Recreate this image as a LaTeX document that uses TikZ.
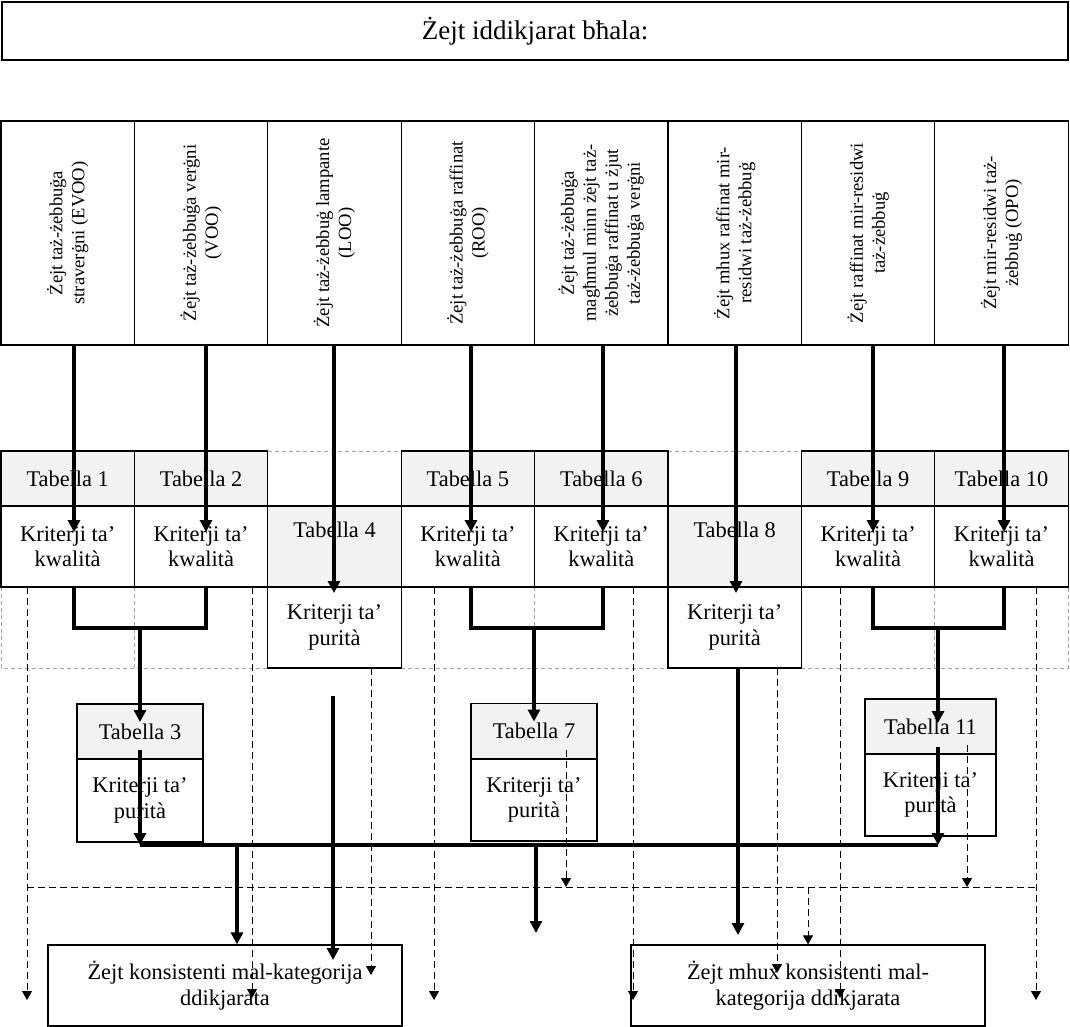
\documentclass[tikz,border=0pt]{standalone}
\usepackage{fontspec}
\setmainfont{Liberation Serif}
\usetikzlibrary{arrows.meta, backgrounds}
\definecolor{headgray}{HTML}{F2F2F2}

\begin{document}
\begin{tikzpicture}[
    x=0.5pt, y=-0.5pt,
    banner/.style={draw, line width=0.6pt, minimum width=533pt, minimum height=29pt, font=\fontsize{13.5}{16}\selectfont},
    colbox/.style={draw, line width=0.6pt, rotate=90, minimum width=112pt, minimum height=66.7pt, inner sep=1pt, outer sep=0pt, align=center, font=\fontsize{9.3}{11}\selectfont},
    tabcell/.style={draw, line width=0.6pt, fill=headgray, minimum width=66.7pt, minimum height=27.5pt, inner sep=0pt, outer sep=0pt, font=\fontsize{11.2}{12.8}\selectfont},
    critcell/.style={draw, line width=0.6pt, fill=white, minimum width=66.7pt, minimum height=40.5pt, inner sep=0pt, outer sep=0pt, align=center, font=\fontsize{11.2}{12.8}\selectfont},
    verdict/.style={draw, line width=0.6pt, minimum width=177pt, minimum height=40.5pt, align=center, font=\fontsize{11.2}{12.8}\selectfont},
    heavyarrow/.style={-{Triangle[length=6pt, width=6pt]}, line width=2pt},
    heavyline/.style={line width=2pt},
    dasharrow/.style={-{Triangle[length=4.5pt, width=5pt]}, line width=0.5pt, dash pattern=on 3.5pt off 2pt},
    dashline/.style={line width=0.5pt, dash pattern=on 3.5pt off 2pt},
    ghostline/.style={line width=0.4pt, gray!70, dash pattern=on 2pt off 1.5pt},
]
\useasboundingbox (0,0) rectangle (1070,1027);

% title
\node[banner] (title) at (535,31) {Żejt iddikjarat bħala:};

% oil categories
\node[colbox] (c1) at (67.7,233) {Żejt taż-żebbuġa\\straverġni (EVOO)};
\node[colbox] (c2) at (201.1,233) {Żejt taż-żebbuġa verġni\\(VOO)};
\node[colbox] (c3) at (334.5,233) {Żejt taż-żebbuġ lampante\\(LOO)};
\node[colbox] (c4) at (467.9,233) {Żejt taż-żebbuġa raffinat\\(ROO)};
\node[colbox] (c5) at (601.3,233) {Żejt taż-żebbuġa\\magħmul minn żejt taż-\\żebbuġa raffinat u żjut\\taż-żebbuġa verġni};
\node[colbox] (c6) at (734.7,233) {Żejt mhux raffinat mir-\\residwi taż-żebbuġ};
\node[colbox] (c7) at (868.1,233) {Żejt raffinat mir-residwi\\taż-żebbuġ};
\node[colbox] (c8) at (1001.5,233) {Żejt mir-residwi taż-\\żebbuġ (OPO)};

% tables
\node[tabcell] (t1) at (67.7,478.5) {Tabella 1};
\node[tabcell] (t2) at (201.1,478.5) {Tabella 2};
\node[tabcell] (t5) at (467.9,478.5) {Tabella 5};
\node[tabcell] (t6) at (601.3,478.5) {Tabella 6};
\node[tabcell] (t9) at (868.1,478.5) {Tabella 9};
\node[tabcell] (t10) at (1001.5,478.5) {Tabella 10};
\node[critcell] (k1) at (67.7,546.5) {Kriterji ta’\\kwalità};
\node[critcell] (k2) at (201.1,546.5) {Kriterji ta’\\kwalità};
\node[critcell] (k5) at (467.9,546.5) {Kriterji ta’\\kwalità};
\node[critcell] (k6) at (601.3,546.5) {Kriterji ta’\\kwalità};
\node[critcell] (k9) at (868.1,546.5) {Kriterji ta’\\kwalità};
\node[critcell] (k10) at (1001.5,546.5) {Kriterji ta’\\kwalità};
\node[critcell, fill=headgray] (t4) at (334.5,546.5) {Tabella 4\\\strut};
\node[critcell] (k4) at (334.5,627.5) {Kriterji ta’\\purità};
\node[critcell, fill=headgray] (t8) at (734.7,546.5) {Tabella 8\\\strut};
\node[critcell] (k8) at (734.7,627.5) {Kriterji ta’\\purità};

% purity tables
\node[tabcell, minimum width=63pt] (t3) at (140,731.5) {Tabella 3};
\node[critcell, minimum width=63pt, minimum height=41.5pt] (k3) at (140,800.5) {Kriterji ta’\\purità};
\node[tabcell, minimum width=63pt] (t7) at (534,731) {Tabella 7};
\node[critcell, minimum width=63pt, minimum height=41pt] (k7) at (534,800) {Kriterji ta’\\purità};
\node[tabcell, minimum width=65.5pt] (t11) at (930.5,726.5) {Tabella 11};
\node[critcell, minimum width=65.5pt, minimum height=41pt] (k11) at (930.5,795) {Kriterji ta’\\purità};

% outcomes
\node[verdict] (ok) at (225,985.5) {Żejt konsistenti mal-kategorija\\ddikjarata};
\node[verdict] (nok) at (808,985.5) {Żejt mhux konsistenti mal-\\kategorija ddikjarata};

% empty cells
\begin{scope}[on background layer]
\draw[ghostline] (t2.north east) -- (t5.north west) (t6.north east) -- (t9.north west);
\draw[ghostline] (k1.south west) -- (k1.south west |- k4.south) -- (k4.south west);
\draw[ghostline] (k1.south east) -- (k1.south east |- k4.south);
\draw[ghostline] (k4.south east) -- (k8.south west);
\draw[ghostline] (k5.south east) -- (k5.south east |- k4.south);
\draw[ghostline] (k8.south east) -- (k10.south east |- k8.south) -- (k10.south east);
\draw[ghostline] (k9.south east) -- (k9.south east |- k4.south);
\end{scope}

% categories into tables
\coordinate (a1) at (74,532);
\coordinate (a2) at (206,532);
\coordinate (a4) at (334,593);
\coordinate (a5) at (471,532);
\coordinate (a6) at (603,532);
\coordinate (a8) at (736,593);
\coordinate (a9) at (873,532);
\coordinate (a10) at (1004,532);
\draw[heavyarrow] (c1.west -| a1) -- (a1);
\draw[heavyarrow] (c2.west -| a2) -- (a2);
\draw[heavyarrow] (c3.west -| a4) -- (a4);
\draw[heavyarrow] (c4.west -| a5) -- (a5);
\draw[heavyarrow] (c5.west -| a6) -- (a6);
\draw[heavyarrow] (c6.west -| a8) -- (a8);
\draw[heavyarrow] (c7.west -| a9) -- (a9);
\draw[heavyarrow] (c8.west -| a10) -- (a10);

% quality -> purity
\coordinate (m3) at (140,628);
\coordinate (m7) at (534,628);
\coordinate (m11) at (938,628);
\draw[heavyline] (k1.south -| a1) |- (m3) -| (k2.south -| a2);
\draw[heavyline] (k5.south -| a5) |- (m7) -| (k6.south -| a6);
\draw[heavyline] (k9.south -| a9) |- (m11) -| (k10.south -| a10);
\draw[heavyarrow] (m3) -- ([yshift=-9pt]t3.north);
\draw[heavyarrow] (m7) -- ([yshift=-9pt]t7.north);
\draw[heavyarrow] (m11) -- ([yshift=-12pt]t11.north -| m11);

% consistent
\coordinate (bus3) at (140,845);
\coordinate (bus11) at (938,845);
\draw[heavyarrow] ([yshift=4.5pt]t3.south) -- (bus3);
\draw[heavyarrow] ([yshift=3.5pt]t11.south -| bus11) -- (bus11);
\draw[heavyline] (bus3) -- (bus11);
\coordinate (s1) at (237,845);
\coordinate (s2) at (536,845);
\coordinate (s2end) at (536,933);
\draw[heavyarrow] (s1) -- (s1 |- ok.north);
\draw[heavyarrow] (s2) -- (s2end);
\coordinate (u4) at (333,696);
\coordinate (v4) at (333,960);
\draw[heavyarrow] (u4) -- (v4);
\coordinate (v8) at (738,935);
\draw[heavyarrow] (k8.south -| v8) -- (v8);

% not consistent
\coordinate (r0) at (27,887);
\coordinate (r1) at (1036,887);
\draw[dashline] (r0) -- (r1);
\coordinate (g1) at (27,1000);
\coordinate (g2) at (252,998);
\coordinate (g4) at (371,975);
\coordinate (g5) at (434,1000);
\coordinate (g6) at (633,1000);
\coordinate (g8) at (777,973);
\coordinate (g9) at (840,998);
\coordinate (g10) at (1036,1000);
\draw[dasharrow] (k1.south -| g1) -- (g1);
\draw[dasharrow] (k2.south -| g2) -- (g2);
\draw[dasharrow] (k4.south -| g4) -- (g4);
\draw[dasharrow] (k5.south -| g5) -- (g5);
\draw[dasharrow] (k6.south -| g6) -- (g6);
\draw[dasharrow] (k8.south -| g8) -- (g8);
\draw[dasharrow] (k9.south -| g9) -- (g9);
\draw[dasharrow] (k10.south -| g10) -- (g10);
\coordinate (w7) at (566,750);
\coordinate (w11) at (967,745);
\draw[dasharrow] (w7) -- (w7 |- r0);
\draw[dasharrow] (w11) -- (w11 |- r0);
\draw[dasharrow] (r0 -| nok.north) -- (nok.north);

\end{tikzpicture}
\end{document}
